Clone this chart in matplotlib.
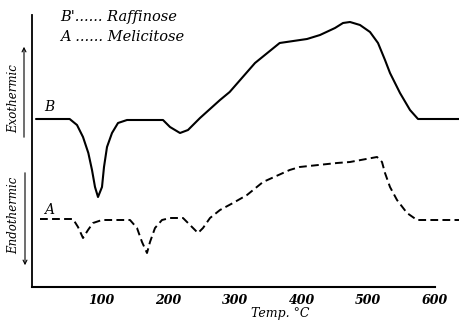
import matplotlib
matplotlib.use("Agg")
import matplotlib.pyplot as plt

# Raffinose (curve B), temperature in deg C and trace height (arbitrary units)
temp_b = [1.5, 52, 63, 72, 80, 85.5, 90, 94.5, 100.5, 103.5, 108, 115.5, 124.5, 138,
          192, 202.5, 217.5, 229.5, 240, 247.5, 277.5, 292, 330, 367, 408, 427.5,
          450, 462, 472.5, 487.5, 502.5, 514.5, 525, 532.5, 547.5, 562.5, 574.5, 637]
sig_b = [168, 168, 162, 150, 134, 117, 100, 90, 100, 120, 140, 154, 164, 167,
         167, 160, 154, 157, 164, 169, 187, 195, 224, 244, 248, 252,
         259, 264, 265, 262, 255, 244, 227, 214, 194, 177, 168, 168]

# Melicitose (curve A)
temp_a = [7.5, 57, 64.5, 72, 79.5, 87, 100.5, 142.5, 153, 160.5, 168, 172.5, 180,
          190.5, 202.5, 222, 232.5, 244.5, 252, 262.5, 277.5, 297, 318, 342, 382,
          397, 453, 472.5, 513, 520.5, 525, 532.5, 543, 558, 573, 637]
sig_a = [68, 68, 60, 49, 57, 64, 67, 67, 59, 45, 34, 45, 59,
         67, 69, 69, 62, 54, 59, 69, 77, 84, 92, 105, 117,
         120, 124, 125, 130, 125, 114, 100, 87, 74, 67, 67]

xticks = [100, 200, 300, 400, 500, 600]

W, H = 460, 323
fig = plt.figure(figsize=(W / 100, H / 100), dpi=100)
ax = fig.add_axes([32 / W, 36 / H, 428 / W, 287 / H])
ax.set_xlim(-4.5, 637.5)
ax.set_ylim(0, 287)

ax.plot(temp_b, sig_b, color="black", lw=1.5, solid_capstyle="round", solid_joinstyle="round")
ax.plot(temp_a, sig_a, color="black", lw=1.4, dashes=(4, 2.2))

for s in ["top", "right"]:
    ax.spines[s].set_visible(False)
ax.spines["left"].set_bounds(0, 272)
ax.spines["bottom"].set_bounds(-4.5, 600)
ax.spines["left"].set_linewidth(1.3)
ax.spines["bottom"].set_linewidth(1.5)
ax.set_yticks([])
ax.set_xticks(xticks)
ax.set_xticklabels([str(t) for t in xticks], fontsize=9, fontstyle="italic",
                   fontweight="bold", family="DejaVu Serif")
ax.tick_params(axis="x", length=0, pad=5)


def px(x, y):
    return x / W, 1 - y / H


hand = dict(family="DejaVu Serif", fontstyle="italic", color="black")
fig.text(*px(60, 17), "B'...... Raffinose", fontsize=10.5, va="center", ha="left", **hand)
fig.text(*px(60, 37), "A ...... Melicitose", fontsize=10.5, va="center", ha="left", **hand)
fig.text(*px(44, 107), "B", fontsize=10, va="center", ha="left", **hand)
fig.text(*px(44, 210), "A", fontsize=10, va="center", ha="left", **hand)
fig.text(*px(14, 99), "Exothermic", fontsize=8.5, rotation=90, va="center", ha="center", **hand)
fig.text(*px(14, 215), "Endothermic", fontsize=8.5, rotation=90, va="center", ha="center", **hand)
fig.text(*px(280, 314), "Temp. \u00b0C", fontsize=9, va="center", ha="center", **hand)

fig.add_artist(matplotlib.patches.FancyArrowPatch(px(24, 140), px(24, 44),
               transform=fig.transFigure, arrowstyle="->", mutation_scale=7, lw=0.8))
fig.add_artist(matplotlib.patches.FancyArrowPatch(px(25, 170), px(25, 268),
               transform=fig.transFigure, arrowstyle="->", mutation_scale=7, lw=0.8))

fig.savefig("out.png", dpi=100, facecolor="white")
